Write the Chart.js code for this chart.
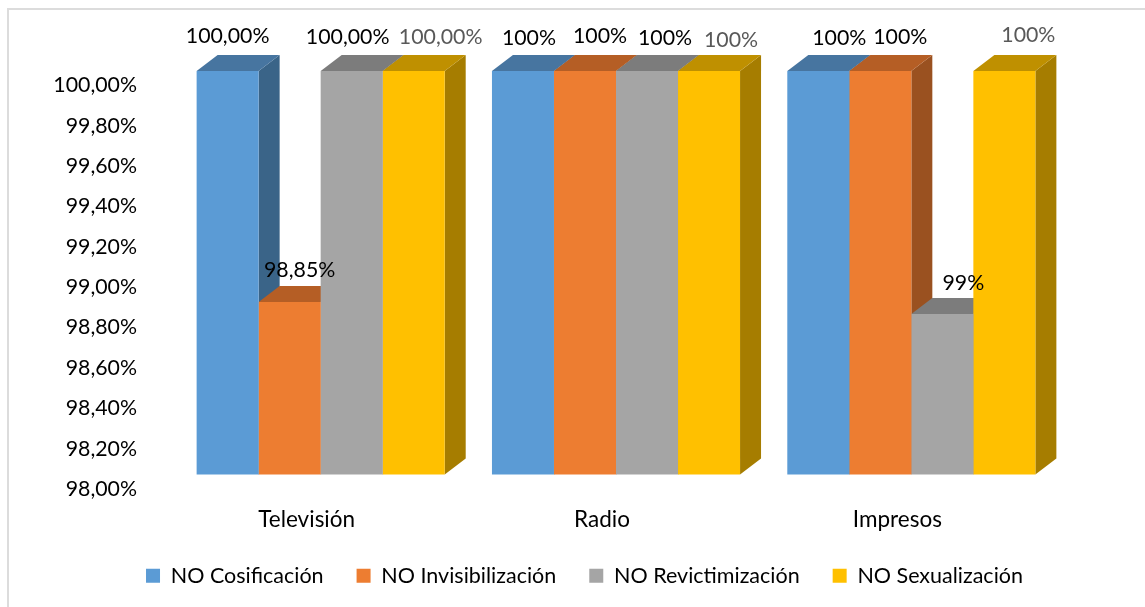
<!DOCTYPE html>
<html><head><meta charset="utf-8">
<script src="https://cdn.jsdelivr.net/npm/chart.js@4"></script>
<style>
html,body{margin:0;padding:0;background:#fff;overflow:hidden}
#wrap{position:relative;width:1145px;height:607px}
#frame{position:absolute;left:7px;top:8px;right:-4px;bottom:-4px;border:2px solid #dcdcdc;box-sizing:border-box}
canvas{position:absolute;left:0;top:0}
</style></head><body>
<div id="wrap"><div id="frame"></div><canvas id="c" width="1145" height="607"></canvas></div>
<script>
const categories = ['Televisión','Radio','Impresos'];
const seriesNames = ['NO Cosificación','NO Invisibilización','NO Revictimización','NO Sexualización'];
const cosificacion = [100, 100, 100];
const invisibilizacion = [98.855, 100, 100];
const revictimizacion = [100, 100, 98.795];
const sexualizacion = [100, 100, 100];
const seriesValues = [cosificacion, invisibilizacion, revictimizacion, sexualizacion];
const valueLabels = [
  ['100,00%','100%','100%'],
  ['98,85%','100%','100%'],
  ['100,00%','100%','99%'],
  ['100,00%','100%','100%']
];
const frontColors = ['#5B9BD5','#ED7D31','#A5A5A5','#FFC000'];
const topColors = ['#4775A0','#B55E25','#7C7C7C','#BF9000'];
const sideColors = ['#3A6488','#9A5120','#6B6B6B','#A67D00'];
const labelColors = ['#000','#000','#000','#595959'];
// label nudges from each bar's top-centre [dx, dy], by series then category
const labelNudge = [
  [[0,-35],[6,-33],[21,-33]],
  [[10,-32],[15,-35],[20,-34]],
  [[-4,-34],[18,-33],[21,-31]],
  [[27,-34],[22,-31],[24,-36]]
];
const FONT = 'Lato';
const DX = 21, DY = 16;
const LEGEND_LEFT = 65, LEGEND_TOP = 532;

const depthPlugin = {
  id:'depth',
  afterLayout(chart){
    const lg = chart.legend;
    const w = lg.width, h = lg.height;
    lg.left = LEGEND_LEFT; lg.right = LEGEND_LEFT + w;
    lg.top = LEGEND_TOP; lg.bottom = LEGEND_TOP + h;
  },
  beforeDatasetsDraw(chart){
    const ctx = chart.ctx;
    const base = chart.scales.y.getPixelForValue(98);
    categories.forEach((_,ci)=>{
      seriesValues.forEach((_,si)=>{
        const b = chart.getDatasetMeta(si).data[ci];
        const l = b.x - b.width/2, r = b.x + b.width/2, t = b.y;
        ctx.fillStyle = sideColors[si];
        ctx.beginPath();
        ctx.moveTo(r,t);ctx.lineTo(r+DX,t-DY);ctx.lineTo(r+DX,base-DY);ctx.lineTo(r,base);ctx.closePath();ctx.fill();
        ctx.fillStyle = topColors[si];
        ctx.beginPath();
        ctx.moveTo(l,t);ctx.lineTo(l+DX,t-DY);ctx.lineTo(r+DX,t-DY);ctx.lineTo(r,t);ctx.closePath();ctx.fill();
      });
    });
  },
  afterDatasetsDraw(chart){
    const ctx = chart.ctx;
    ctx.save();
    ctx.font = '21.3px '+FONT;
    ctx.textAlign = 'center';
    ctx.textBaseline = 'middle';
    seriesValues.forEach((_,si)=>{
      const meta = chart.getDatasetMeta(si);
      categories.forEach((_,ci)=>{
        const b = meta.data[ci];
        const n = labelNudge[si][ci];
        ctx.fillStyle = labelColors[si];
        ctx.fillText(valueLabels[si][ci], b.x+n[0], b.y+n[1]);
      });
    });
    ctx.restore();
  }
};

new Chart(document.getElementById('c'),{
  type:'bar',
  data:{
    labels:categories,
    datasets:seriesNames.map((name,i)=>({
      label:name,
      data:seriesValues[i],
      backgroundColor:frontColors[i],
      borderWidth:0,
      barPercentage:1,
      categoryPercentage:0.84
    }))
  },
  options:{
    responsive:false,
    animation:false,
    layout:{padding:{left:20,right:86,top:71,bottom:0}},
    plugins:{
      tooltip:{enabled:false},
      legend:{
        position:'bottom',
        onClick:null,
        labels:{
          boxWidth:14,boxHeight:14,padding:33,color:'#000',
          font:{family:FONT,size:21.5}
        }
      }
    },
    scales:{
      x:{
        grid:{display:false,drawTicks:false},
        border:{display:false},
        ticks:{color:'#000',font:{family:FONT,size:22.5},padding:32,labelOffset:-14,maxRotation:0},
        afterFit(s){ s.height = 68; }
      },
      y:{
        min:98,max:100,
        grid:{display:false,drawTicks:false},
        border:{display:false},
        ticks:{
          stepSize:0.2,color:'#000',font:{family:FONT,size:21.3},padding:36,labelOffset:14.5,
          callback:v=>v.toFixed(2).replace('.',',')+'%'
        },
        afterFit(s){ s.width = 153; }
      }
    }
  },
  plugins:[depthPlugin]
});
</script>
</body></html>
